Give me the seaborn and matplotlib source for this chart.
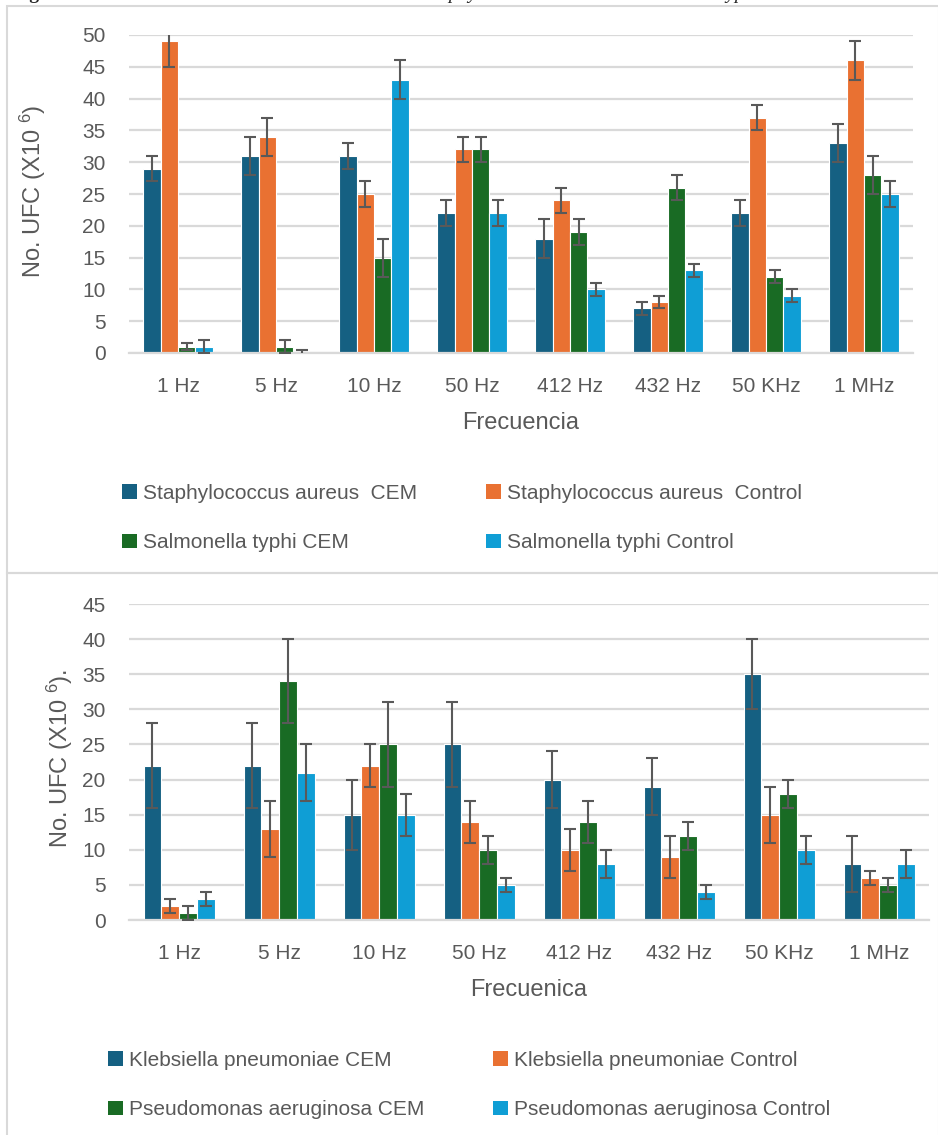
import pandas as pd
import seaborn as sns
import matplotlib.pyplot as plt
from matplotlib.patches import Patch, Rectangle

# Frequencies tested
freqs = ['1 Hz', '5 Hz', '10 Hz', '50 Hz', '412 Hz', '432 Hz', '50 KHz', '1 MHz']

# Top chart: S. aureus vs Salmonella typhi (UFC x10^6)
top_series = ['Staphylococcus aureus  CEM', 'Staphylococcus aureus  Control',
              'Salmonella typhi CEM', 'Salmonella typhi Control']
sa_cem = [29, 31, 31, 22, 18, 7, 22, 33]
sa_ctrl = [49, 34, 25, 32, 24, 8, 37, 46]
st_cem = [1, 1, 15, 32, 19, 26, 12, 28]
st_ctrl = [1, 0, 43, 22, 10, 13, 9, 25]
sa_cem_err = [2, 3, 2, 2, 3, 1, 2, 3]
sa_ctrl_err = [4, 3, 2, 2, 2, 1, 2, 3]
st_cem_err = [0.5, 1, 3, 2, 2, 2, 1, 3]
st_ctrl_err = [1, 0.4, 3, 2, 1, 1, 1, 2]

# Bottom chart: K. pneumoniae vs P. aeruginosa (UFC x10^6)
bot_series = ['Klebsiella pneumoniae CEM', 'Klebsiella pneumoniae Control',
              'Pseudomonas aeruginosa CEM', 'Pseudomonas aeruginosa Control']
kp_cem = [22, 22, 15, 25, 20, 19, 35, 8]
kp_ctrl = [2, 13, 22, 14, 10, 9, 15, 6]
pa_cem = [1, 34, 25, 10, 14, 12, 18, 5]
pa_ctrl = [3, 21, 15, 5, 8, 4, 10, 8]
kp_cem_err = [6, 6, 5, 6, 4, 4, 5, 4]
kp_ctrl_err = [1, 4, 3, 3, 3, 3, 4, 1]
pa_cem_err = [1, 6, 6, 2, 3, 2, 2, 1]
pa_ctrl_err = [1, 4, 3, 1, 2, 1, 2, 2]

colors = ['#156082', '#E97132', '#196B24', '#0F9ED5']
text_gray = '#595959'
grid_gray = '#D9D9D9'

sns.set_theme(style='white')
plt.rcParams['font.family'] = ['Liberation Sans', 'DejaVu Sans']
plt.rcParams['mathtext.fontset'] = 'custom'
plt.rcParams['mathtext.rm'] = 'Liberation Sans'
plt.rcParams['mathtext.it'] = 'Liberation Sans'


def long_table(series, values):
    rows = []
    for name, vals in zip(series, values):
        for f, v in zip(freqs, vals):
            rows.append({'freq': f, 'ufc': v, 'serie': name})
    return pd.DataFrame(rows)


def draw_panel(ax, series, values, errors, ymax, ylabel, xlabel, ylab_x):
    df = long_table(series, values)
    sns.barplot(data=df, x='freq', y='ufc', hue='serie', order=freqs,
                hue_order=series, palette=colors, saturation=1, width=0.71,
                edgecolor='white', linewidth=0.8, legend=False, ax=ax)
    # error bars at the centres of the bars seaborn drew
    for cont, err in zip(ax.containers, errors):
        xs = [p.get_x() + p.get_width() / 2 for p in cont.patches]
        ys = [p.get_height() for p in cont.patches]
        ax.errorbar(xs, ys, yerr=err, fmt='none', ecolor=text_gray,
                    elinewidth=1.5, capsize=4.5, capthick=1.5, zorder=5)
    ax.set_xlim(-0.5, len(freqs) - 0.5)
    ax.set_ylim(0, ymax)
    ax.set_yticks(range(0, ymax + 1, 5))
    ax.yaxis.grid(True, color=grid_gray, linewidth=1.6)
    ax.set_axisbelow(True)
    for s in ['top', 'right', 'left']:
        ax.spines[s].set_visible(False)
    ax.spines['bottom'].set_color(grid_gray)
    ax.spines['bottom'].set_linewidth(1.6)
    ax.tick_params(axis='both', length=0, labelsize=15, colors=text_gray)
    ax.tick_params(axis='x', pad=17)
    ax.tick_params(axis='y', pad=17)
    ax.set_xlabel(xlabel, fontsize=17, color=text_gray, va='center')
    ax.set_ylabel(ylabel, fontsize=17, color=text_gray, va='center')
    ax.xaxis.set_label_coords(0.5, -0.22)
    ax.yaxis.set_label_coords(ylab_x, 0.51)


fig = plt.figure(figsize=(9.38, 11.35), dpi=100)
W, H = 938, 1135

ax1 = fig.add_axes([129 / W, 1 - 353 / H, 784 / W, 318 / H])
draw_panel(ax1, top_series, [sa_cem, sa_ctrl, st_cem, st_ctrl],
           [sa_cem_err, sa_ctrl_err, st_cem_err, st_ctrl_err], 50,
           'No. UFC (X10 $^{6}$)', 'Frecuencia', -0.122)

ax2 = fig.add_axes([129 / W, 1 - 920 / H, 800 / W, 316 / H])
draw_panel(ax2, bot_series, [kp_cem, kp_ctrl, pa_cem, pa_ctrl],
           [kp_cem_err, kp_ctrl_err, pa_cem_err, pa_ctrl_err], 45,
           'No. UFC (X10 $^{6}$).', 'Frecuenica', -0.086)

# legends, two columns each
def add_legend(series, col_x, row_y):
    handles = [Patch(facecolor=c, edgecolor='none') for c in colors]
    for k, x in enumerate(col_x):
        idx = [k, k + 2]
        fig.legend([handles[i] for i in idx], [series[i] for i in idx],
                   loc='upper left', bbox_to_anchor=(x / W, 1 - row_y / H),
                   frameon=False, fontsize=15, labelcolor=text_gray,
                   handlelength=0.7, handleheight=0.7, handletextpad=0.3,
                   labelspacing=1.45, borderpad=0, borderaxespad=0)

add_legend(top_series, [122, 486], 484)
add_legend(bot_series, [108, 493], 1051)

# chart frames
for y0, y1 in [(6, 573), (573, 1140)]:
    fig.add_artist(Rectangle((7 / W, 1 - y1 / H), (W - 6) / W, (y1 - y0) / H,
                             transform=fig.transFigure, facecolor='none',
                             edgecolor=grid_gray, linewidth=1.5))

# caption line of the page, cut off at the top
fig.text(12 / W, 1 + 1 / H, 'Figura 2.', family='Liberation Serif',
         weight='bold', fontsize=14, va='baseline')
fig.text(760 / W, 1 + 1 / H, 'Staphylococcus aureus vs Salmonella typhi',
         family='Liberation Serif', style='italic', fontsize=14,
         ha='right', va='baseline')

fig.savefig('out.png', dpi=100, facecolor='white')
